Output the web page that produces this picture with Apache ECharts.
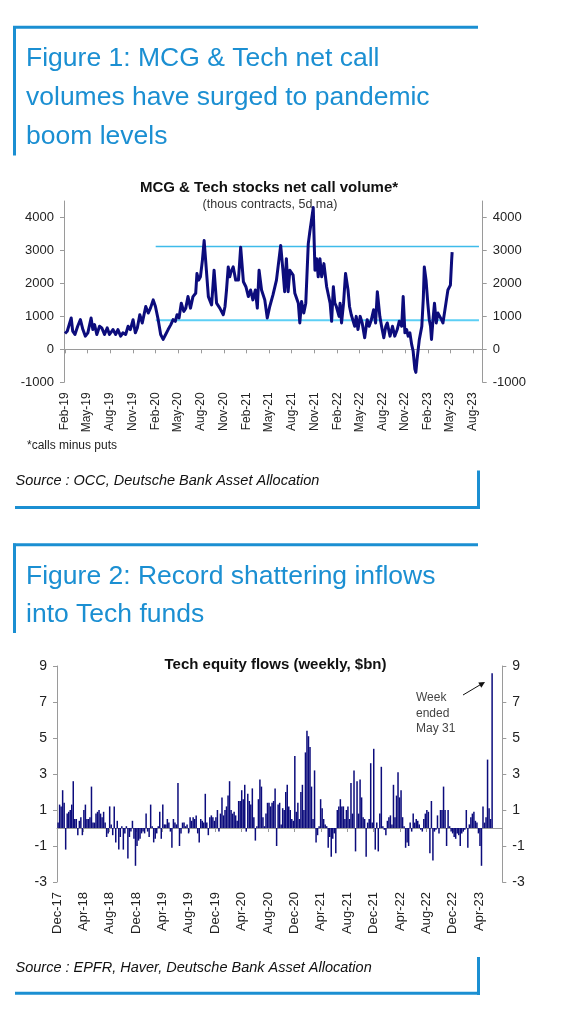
<!DOCTYPE html>
<html><head><meta charset="utf-8">
<script src="https://cdn.jsdelivr.net/npm/echarts@6.0.0/dist/echarts.min.js"></script>
<style>html,body{margin:0;padding:0;background:#fff}#c{width:582px;height:1014px}</style>
</head><body><div id="c"></div>
<script>
// ---------- Figure 1 data: MCG & Tech net call volume (thous contracts, 5d ma) ----------
const callDates = ['2019-02-01','2019-02-10','2019-02-17','2019-02-26','2019-03-04','2019-03-13','2019-03-24','2019-04-04','2019-04-14','2019-04-24','2019-05-04','2019-05-17','2019-05-24','2019-05-31','2019-06-09','2019-06-20','2019-06-29','2019-07-10','2019-07-21','2019-07-30','2019-08-13','2019-08-24','2019-09-02','2019-09-13','2019-09-22','2019-10-03','2019-10-13','2019-10-22','2019-11-02','2019-11-11','2019-11-19','2019-11-29','2019-12-09','2019-12-23','2020-01-02','2020-01-11','2020-01-22','2020-01-31','2020-02-11','2020-02-21','2020-03-02','2020-03-12','2020-03-22','2020-04-02','2020-04-11','2020-04-20','2020-04-27','2020-05-05','2020-05-14','2020-05-24','2020-06-01','2020-06-10','2020-06-20','2020-06-30','2020-07-11','2020-07-16','2020-07-23','2020-07-30','2020-08-07','2020-08-14','2020-08-21','2020-08-31','2020-09-13','2020-09-23','2020-10-03','2020-10-16','2020-10-30','2020-11-06','2020-11-12','2020-11-19','2020-11-25','2020-11-30','2020-12-09','2020-12-19','2020-12-30','2021-01-08','2021-01-19','2021-01-29','2021-02-08','2021-02-17','2021-02-26','2021-03-08','2021-03-16','2021-03-23','2021-04-02','2021-04-15','2021-04-25','2021-05-05','2021-05-18','2021-06-01','2021-06-08','2021-06-18','2021-06-27','2021-07-04','2021-07-11','2021-07-18','2021-07-25','2021-08-07','2021-08-14','2021-08-28','2021-09-03','2021-09-10','2021-09-19','2021-09-27','2021-10-07','2021-10-13','2021-10-19','2021-10-27','2021-11-03','2021-11-10','2021-11-16','2021-11-23','2021-11-30','2021-12-09','2021-12-20','2022-01-03','2022-01-09','2022-01-16','2022-01-22','2022-01-28','2022-02-08','2022-02-12','2022-02-18','2022-02-26','2022-03-06','2022-03-16','2022-03-22','2022-03-29','2022-04-05','2022-04-12','2022-04-18','2022-04-25','2022-05-04','2022-05-12','2022-05-22','2022-06-01','2022-06-09','2022-06-18','2022-06-27','2022-07-05','2022-07-12','2022-07-22','2022-07-29','2022-08-07','2022-08-15','2022-08-21','2022-09-01','2022-09-11','2022-09-20','2022-09-30','2022-10-08','2022-10-18','2022-10-24','2022-10-31','2022-11-07','2022-11-13','2022-11-20','2022-11-27','2022-12-03','2022-12-10','2022-12-14','2022-12-19','2022-12-28','2023-01-07','2023-01-13','2023-01-17','2023-01-24','2023-01-31','2023-02-06','2023-02-11','2023-02-15','2023-02-21','2023-02-27','2023-03-06','2023-03-13','2023-03-20','2023-03-27','2023-04-02','2023-04-09','2023-04-16','2023-04-22','2023-05-02','2023-05-07','2023-05-09'];
const callValues = [480,550,500,950,550,450,700,900,600,400,500,950,600,750,450,700,650,450,650,450,600,450,600,400,500,450,700,600,900,500,650,1050,800,1300,1100,1250,1500,1300,900,450,300,450,600,750,900,850,1050,950,1400,1150,1250,1600,1250,1600,1700,2300,2100,2200,2700,3300,2600,1600,1350,2400,1400,1250,1050,1300,1800,2500,2200,2350,2500,2100,2100,3100,2050,1900,1600,1800,1500,1800,1250,2400,1800,1500,950,1300,1650,2100,2150,3150,2400,1750,2750,1750,2400,2250,1700,1400,800,1450,1100,1400,3200,3550,3500,4300,2400,2750,2200,2750,2200,2600,1900,1400,850,1900,1400,1300,1000,1400,800,1400,2300,1800,1300,1050,1000,700,1000,600,1000,800,350,900,700,900,1200,800,1750,1000,700,350,700,800,400,700,400,600,850,700,1600,500,600,400,500,150,-50,-600,-700,-300,300,700,1550,2500,2100,1400,900,700,300,900,1400,800,1100,1000,900,800,750,1500,1800,1950,2700,2950];
const callRefLevels = [3120, 885];
const callRefStart = '2020-02-01';
const callRefEnd = '2023-08-25';
const callTickDates = ['2019-02-01','2019-05-01','2019-08-01','2019-11-01','2020-02-01','2020-05-01','2020-08-01','2020-11-01','2021-02-01','2021-05-01','2021-08-01','2021-11-01','2022-02-01','2022-05-01','2022-08-01','2022-11-01','2023-02-01','2023-05-01','2023-08-01'];
const callYTicks = [-1000, 0, 1000, 2000, 3000, 4000];

// ---------- Figure 2 data: Tech equity flows (weekly, $bn) ----------
const flowFirstWeek = '2017-12-06';
const flowValues = [
 0.3,1.3,1.2,2.1,1.4,-1.2,0.8,0.9,1.0,1.3,
 2.6,0.5,0.5,-0.4,0.4,0.6,-0.4,1.0,1.3,0.5,
 0.5,0.6,2.3,0.3,0.3,0.8,0.9,1.0,0.8,0.6,
 0.9,0.3,-0.5,-0.3,1.2,0.2,-0.4,1.2,-0.8,0.4,
 -1.2,-0.5,0.1,-1.2,-0.3,0.1,-1.7,-0.5,-0.2,0.4,
 -0.6,-2.1,-1.0,-0.7,-0.6,-0.3,-0.2,-0.3,0.8,-0.2,
 -0.5,1.3,0.1,-0.8,-0.6,-0.3,0.1,0.9,-0.6,1.3,
 0.2,0.2,0.5,0.3,-0.2,-1.1,0.5,0.3,0.2,2.5,
 -1.0,-0.3,0.3,0.3,0.1,0.2,-0.3,0.6,0.4,0.6,
 0.5,0.7,-0.3,-0.8,0.5,0.4,0.3,1.9,0.3,-0.4,
 0.6,0.7,0.6,0.4,0.6,1.0,-0.2,0.8,1.7,0.7,
 1.0,1.2,1.8,2.6,1.0,0.8,0.9,0.7,0.4,1.5,
 1.5,2.1,1.6,2.4,-0.2,1.9,1.5,1.3,2.2,0.6,
 -0.7,0.1,1.6,2.7,2.3,0.6,0.1,0.8,1.4,1.4,
 1.2,1.4,1.5,2.2,-1.0,1.3,1.4,0.2,1.1,1.0,
 2.0,2.4,1.2,1.0,0.5,0.4,4.0,0.9,1.4,0.5,
 2.0,2.4,1.0,4.2,5.4,5.1,4.5,2.3,0.5,3.2,
 -0.8,-0.4,0.1,1.6,1.1,0.5,0.2,0.1,-1.1,-0.5,
 -1.6,-0.6,-0.3,-1.4,1.0,1.2,1.6,1.2,1.2,0.5,
 1.0,1.2,0.5,2.5,0.8,3.2,-1.3,2.6,0.8,2.7,
 1.7,0.6,0.5,-1.6,0.3,0.5,3.6,0.3,4.4,-1.2,
 0.3,-1.3,0.8,3.4,0.1,-0.1,-0.4,0.4,0.6,0.7,
 0.2,2.4,0.6,1.8,3.1,1.7,2.1,0.6,0.1,-1.1,
 -0.8,-1.0,0.3,-0.2,0.8,0.3,0.5,0.4,0.2,-0.1,
 -0.2,0.5,0.8,1.0,0.9,-1.4,1.5,-1.8,-0.2,-0.1,
 0.7,-0.3,1.0,1.0,2.3,1.0,-1.0,1.0,0.1,-0.2,
 -0.3,-0.5,-0.6,-0.3,-0.4,-1.0,-0.3,-0.2,-0.1,1.0,
 -1.1,0.2,0.6,0.8,0.9,0.4,0.3,-0.3,-1.0,-2.1,
 1.2,0.3,0.6,3.8,1.1,0.5,8.6];
const flowTickDates = ['2017-12-01','2018-04-01','2018-08-01','2018-12-01','2019-04-01','2019-08-01','2019-12-01','2020-04-01','2020-08-01','2020-12-01','2021-04-01','2021-08-01','2021-12-01','2022-04-01','2022-08-01','2022-12-01','2023-04-01'];
const flowYTicks = [-3, -1, 1, 3, 5, 7, 9];

// ---------- helpers ----------
const DAY = 86400000;
const ts = s => Date.parse(s + 'T00:00:00Z');
const MON = ['Jan','Feb','Mar','Apr','May','Jun','Jul','Aug','Sep','Oct','Nov','Dec'];
const fmtMon = v => { const d = new Date(v); return MON[d.getUTCMonth()] + '-' + String(d.getUTCFullYear()).slice(2); };
const fmtNum = v => String(v);
const FONT = 'Liberation Sans';
const BLUE = '#1b8fd2';
const NAVY = '#0c0c7c';
const AX = '#9a9a9a';
const TXT = '#222';

const c1min = ts('2019-02-01') - 4 * DAY, c1max = c1min + 1685 * DAY;
const c2min = ts('2017-12-01'), c2max = c2min + 2054 * DAY;
const callTicks = callTickDates.map(ts);
const flowTicks = flowTickDates.map(ts);

function xAxesFor(grid, min, max, ticks) {
  return [
    { gridIndex: grid, type: 'value', min, max, position: 'bottom',
      axisLine: { show: true, onZero: true, lineStyle: { color: AX, width: 1 } },
      axisTick: { show: true, customValues: ticks, length: 4, lineStyle: { color: AX } },
      axisLabel: { show: false }, splitLine: { show: false } },
    { gridIndex: grid, type: 'value', min, max, position: 'bottom',
      axisLine: { show: false, onZero: false }, axisTick: { show: false },
      axisLabel: { show: true, customValues: ticks, formatter: fmtMon, rotate: 90, margin: 10,
        fontSize: grid === 0 ? 12 : 13, color: TXT, fontFamily: FONT },
      splitLine: { show: false } }
  ];
}
function yAxesFor(grid, min, max, ticks, fs) {
  return ['left', 'right'].map(pos => ({
    gridIndex: grid, type: 'value', min, max, position: pos,
    axisLine: { show: true, onZero: false, lineStyle: { color: AX, width: 1 } },
    axisTick: { show: true, customValues: ticks, length: 4, lineStyle: { color: AX } },
    axisLabel: { show: true, customValues: ticks, formatter: fmtNum, margin: 10, fontSize: fs, color: TXT, fontFamily: FONT },
    splitLine: { show: false }
  }));
}

const txt = (x, y, text, font, fill, align) => ({
  type: 'text', silent: true,
  style: { x, y, text, font, fill, align: align || 'left', textAlign: align || 'left', verticalAlign: 'middle', textVerticalAlign: 'middle' }
});
const ln = (x1, y1, x2, y2, stroke, w) => ({
  type: 'line', silent: true, shape: { x1, y1, x2, y2 }, style: { stroke, lineWidth: w }
});
const TF = '26.5px "Liberation Sans", Arial, sans-serif';
const SF = 'italic 14.5px "Liberation Sans", Arial, sans-serif';

const option = {
  animation: false,
  backgroundColor: '#fff',
  grid: [
    { left: 64, right: 99.3, top: 201, bottom: 631.7 },
    { left: 57, right: 79.7, top: 666, bottom: 132 }
  ],
  xAxis: [...xAxesFor(0, c1min, c1max, callTicks), ...xAxesFor(1, c2min, c2max, flowTicks)],
  yAxis: [...yAxesFor(0, -1000, 4500, callYTicks, 13), ...yAxesFor(1, -3, 9, flowYTicks, 14)],
  series: [
    { type: 'line', xAxisIndex: 0, yAxisIndex: 0, z: 2, showSymbol: false, silent: true,
      data: [[ts(callRefStart), callRefLevels[0]], [ts(callRefEnd), callRefLevels[0]]],
      lineStyle: { color: '#3fbbea', width: 1.3 } },
    { type: 'line', xAxisIndex: 0, yAxisIndex: 0, z: 2, showSymbol: false, silent: true,
      data: [[ts(callRefStart), callRefLevels[1]], [ts(callRefEnd), callRefLevels[1]]],
      lineStyle: { color: '#5ccff5', width: 2 } },
    { type: 'line', xAxisIndex: 0, yAxisIndex: 0, z: 3, showSymbol: false, silent: true,
      data: callDates.map((d, i) => [ts(d), callValues[i]]),
      lineStyle: { color: NAVY, width: 3, join: 'round' } },
    { type: 'bar', xAxisIndex: 2, yAxisIndex: 2, barWidth: 1.5, silent: true,
      data: flowValues.map((v, i) => [ts(flowFirstWeek) + i * 7 * DAY, v]),
      itemStyle: { color: NAVY } }
  ],
  graphic: [
    // Figure 1 frame + title
    ln(13, 27.2, 478, 27.2, BLUE, 3),
    ln(14.5, 26, 14.5, 155.5, BLUE, 3),
    txt(26, 59, 'Figure 1: MCG & Tech net call', TF, BLUE),
    txt(26, 98, 'volumes have surged to pandemic', TF, BLUE),
    txt(26, 137, 'boom levels', TF, BLUE),
    txt(269, 187.5, 'MCG & Tech stocks net call volume*', 'bold 15px "Liberation Sans", Arial, sans-serif', '#111', 'center'),
    txt(270, 205, '(thous contracts, 5d ma)', '12.5px "Liberation Sans", Arial, sans-serif', '#333', 'center'),
    txt(27, 446, '*calls minus puts', '12px "Liberation Sans", Arial, sans-serif', TXT),
    txt(15.5, 481, 'Source : OCC, Deutsche Bank Asset Allocation', SF, '#111'),
    ln(15, 507.5, 480, 507.5, BLUE, 3),
    ln(478.5, 470.5, 478.5, 509, BLUE, 3),
    // Figure 2 frame + title
    ln(13, 544.7, 478, 544.7, BLUE, 3),
    ln(14.5, 543.5, 14.5, 633, BLUE, 3),
    txt(26, 576.5, 'Figure 2: Record shattering inflows', TF, BLUE),
    txt(26, 615, 'into Tech funds', TF, BLUE),
    txt(275.5, 665, 'Tech equity flows (weekly, $bn)', 'bold 15px "Liberation Sans", Arial, sans-serif', '#111', 'center'),
    txt(416, 698, 'Week', '12px "Liberation Sans", Arial, sans-serif', '#444'),
    txt(416, 713.5, 'ended', '12px "Liberation Sans", Arial, sans-serif', '#444'),
    txt(416, 729, 'May 31', '12px "Liberation Sans", Arial, sans-serif', '#444'),
    ln(463, 695, 481.5, 684, '#111', 1),
    { type: 'polygon', silent: true, shape: { points: [[485, 682], [481.3, 687.7], [478.3, 682.5]] }, style: { fill: '#111' } },
    txt(15.5, 967.5, 'Source : EPFR, Haver, Deutsche Bank Asset Allocation', SF, '#111'),
    ln(15, 993.3, 480, 993.3, BLUE, 3),
    ln(478.5, 957, 478.5, 995, BLUE, 3)
  ]
};

const chart = echarts.init(document.getElementById('c'), null, { renderer: 'canvas', width: 582, height: 1014 });
chart.setOption(option);
</script>
</body></html>
